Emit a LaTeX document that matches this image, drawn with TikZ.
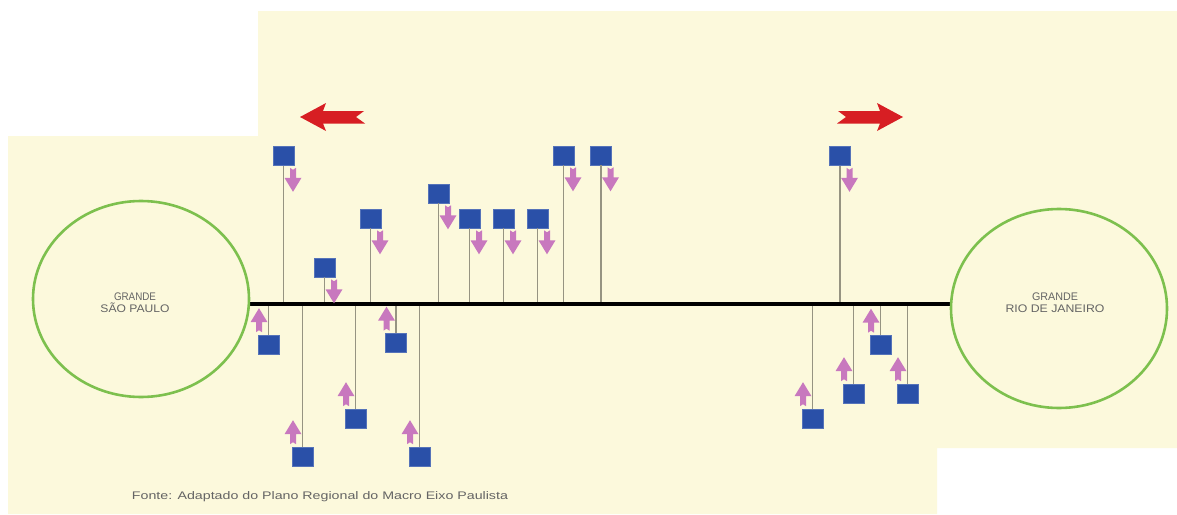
\documentclass[tikz,border=0pt]{standalone}
\usepackage{fontspec}
\setmainfont{Liberation Sans}
\usepackage{graphicx}
\usetikzlibrary{calc,shapes.geometric}
\definecolor{cream}{RGB}{252,249,220}
\definecolor{boxblue}{RGB}{42,80,168}
\definecolor{flowpink}{RGB}{200,120,190}
\definecolor{stemgray}{RGB}{150,148,130}
\definecolor{ringgreen}{RGB}{125,192,78}
\definecolor{arrowred}{RGB}{215,30,35}
\definecolor{labelgray}{RGB}{100,100,100}
\tikzset{
  station/.style={rectangle, fill=boxblue, draw=boxblue!80!white, line width=0.6pt,
    minimum width=21pt, minimum height=19pt, inner sep=0pt},
  stem/.style={draw=stemgray, line width=1.4pt},
  ring/.style={ellipse, draw=ringgreen, line width=2.6pt, inner sep=0pt},
  citylabel/.style={align=center, text=labelgray, inner sep=0pt,
    font=\fontsize{11}{11.5}\selectfont},
  axisline/.style={draw=black, line width=4pt},
  down flow/.pic={\fill[flowpink] (-3,0) -- (0,2) -- (3,0) -- (3,10) -- (8.5,10)
     -- (0,24) -- (-8.5,10) -- (-3,10) -- cycle;},
  up flow/.pic={\fill[flowpink] (-3,0) -- (0,-2) -- (3,0) -- (3,-10) -- (8.5,-10)
     -- (0,-24) -- (-8.5,-10) -- (-3,-10) -- cycle;},
}
\begin{document}
\begin{tikzpicture}[x=1pt,y=-1pt]
\useasboundingbox (0,0) rectangle (1177,514);
\fill[white] (0,0) rectangle (1177,514);
\fill[cream] (8,136) -- (258,136) -- (258,11) -- (1177,11) -- (1177,448)
  -- (937,448) -- (937,514) -- (8,514) -- cycle;

% main axis
\coordinate (L) at (250,304);
\coordinate (R) at (951,304);

% upper stations
\node[station] (u1) at (283.5,156) {};
\node[station] (u2) at (324.5,267.5) {};
\node[station] (u3) at (370.5,218.5) {};
\node[station] (u4) at (438.5,193.5) {};
\node[station] (u5) at (469.5,218.5) {};
\node[station] (u6) at (503.5,218.5) {};
\node[station] (u7) at (537.5,218.5) {};
\node[station] (u8) at (563.5,155.5) {};
\node[station] (u9) at (601,155.5) {};
\node[station] (u10) at (840,156) {};

% lower stations
\node[station] (d1) at (268.5,344.5) {};
\node[station] (d2) at (302.5,456.5) {};
\node[station] (d3) at (355.5,418.5) {};
\node[station] (d4) at (396,343) {};
\node[station] (d5) at (419.5,456.5) {};
\node[station] (d6) at (812.5,418.5) {};
\node[station] (d7) at (853.5,393.5) {};
\node[station] (d8) at (880.5,345) {};
\node[station] (d9) at (907.5,393.5) {};

% stems
\foreach \n in {u1,u2,u3,u4,u5,u6,u7,u8,u9,u10}
  \draw[stem] (\n.south) -- (\n.south |- L);
\foreach \n in {d1,d2,d3,d4,d5,d6,d7,d8,d9}
  \draw[stem] (\n.north) -- (\n.north |- L);

\draw[axisline] (L) -- (R);

% flows
\foreach \n in {u1,u2,u3,u4,u5,u6,u7,u8,u9,u10}
  \pic at ($(\n.south)+(9.5,2)$) {down flow};
\foreach \n in {d1,d2,d3,d4,d5,d6,d7,d8,d9}
  \pic at ($(\n.north)+(-9.5,-2.5)$) {up flow};

% cities
\node[ring, minimum width=216pt, minimum height=196pt] (sp) at (141,299) {};
\node[ring, minimum width=216pt, minimum height=199pt] (rj) at (1059,308.5) {};
\node[citylabel] (splabel) at (135,303) {\resizebox{42pt}{\height}{GRANDE}\\[0.5pt]\resizebox{69pt}{\height}{SÃO PAULO}};
\node[citylabel] (rjlabel) at (1055,302.5) {\resizebox{46pt}{\height}{GRANDE}\\[0.5pt]\resizebox{99pt}{\height}{RIO DE JANEIRO}};

% direction arrows
\fill[arrowred] (300,117) -- (326,103) -- (323,111) -- (364,111) -- (356,117)
  -- (365,123.5) -- (323,123.5) -- (326,131) -- cycle;
\fill[arrowred] (903,117) -- (877,103) -- (880,111) -- (838,111) -- (846,117)
  -- (837,123.5) -- (880,123.5) -- (877,131) -- cycle;

% source
\node[text=labelgray, inner sep=0pt, font=\fontsize{11}{12}\selectfont] (fonte) at (320,497)
  {\resizebox{376pt}{\height}{Fonte: Adaptado do Plano Regional do Macro Eixo Paulista}};
\end{tikzpicture}
\end{document}
